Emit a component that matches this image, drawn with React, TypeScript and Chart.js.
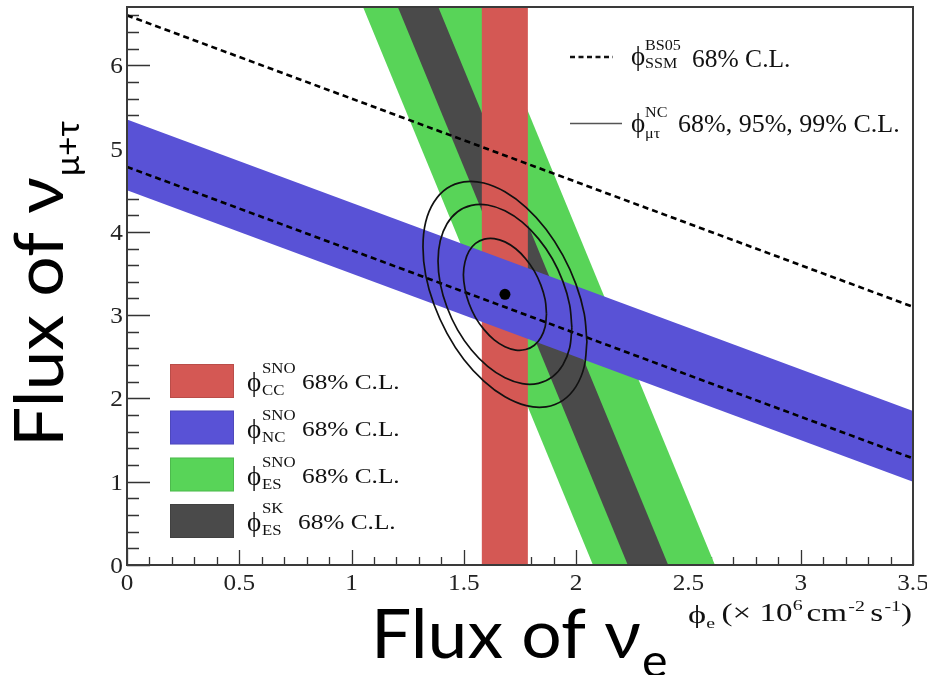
import React, { useEffect, useRef } from "react";
import { Chart, registerables } from "chart.js";

Chart.register(...registerables);

// Axis ranges, in units of 10^6 cm^-2 s^-1
const X_MIN = 0;
const X_MAX = 3.5;
const Y_MIN = 0;
const Y_MAX = 6.7;
const X_TICKS = [0, 0.5, 1, 1.5, 2, 2.5, 3, 3.5];
const X_TICK_LABELS = ["0", "0.5", "1", "1.5", "2", "2.5", "3", "3.5"];
const Y_TICKS = [0, 1, 2, 3, 4, 5, 6];
const Y_TICK_LABELS = ["0", "1", "2", "3", "4", "5", "6"];
const X_MINOR = 0.1;
const Y_MINOR = 0.2;

// SNO CC band: phi_e interval
const CC_BAND = [1.58, 1.785];
// SNO NC band: lower / upper edge of phi_mutau at phi_e = 0 and phi_e = 3.5
const NC_LOWER = [4.5, 1.0];
const NC_UPPER = [5.35, 1.85];
// ES bands: phi_e edges at phi_mutau = 0 and at the top of the frame
const ES_SNO_BOTTOM = [2.075, 2.618];
const ES_SNO_TOP = [1.051, 1.594];
const ES_SK_BOTTOM = [2.23, 2.41];
const ES_SK_TOP = [1.206, 1.386];
// BS05 SSM predictions (dashed): phi_mutau at phi_e = 0 and phi_e = 3.5
const SSM_NC = [4.78, 1.28];
const SSM_TOTAL = [6.6, 3.1];
// Best fit point
const BEST_FIT_X = 1.683;
const BEST_FIT_Y = 3.25;
// phi_mutau contours (68%, 95%, 99% C.L.)
const C68_X = [1.868, 1.862, 1.843, 1.814, 1.775, 1.731, 1.683, 1.635, 1.591, 1.552, 1.523, 1.505, 1.498, 1.505, 1.523, 1.552, 1.591, 1.635, 1.683, 1.731, 1.775, 1.814, 1.843, 1.862];
const C68_Y = [3.015, 2.86, 2.732, 2.639, 2.587, 2.581, 2.621, 2.703, 2.823, 2.971, 3.139, 3.314, 3.485, 3.64, 3.769, 3.862, 3.913, 3.919, 3.88, 3.797, 3.678, 3.529, 3.361, 3.186];
const C95_X = [1.981, 1.971, 1.941, 1.894, 1.832, 1.76, 1.683, 1.606, 1.534, 1.472, 1.425, 1.395, 1.385, 1.395, 1.425, 1.472, 1.534, 1.606, 1.683, 1.76, 1.832, 1.894, 1.941, 1.971];
const C95_Y = [2.851, 2.605, 2.403, 2.258, 2.181, 2.177, 2.247, 2.384, 2.581, 2.823, 3.094, 3.376, 3.649, 3.895, 4.097, 4.242, 4.319, 4.323, 4.253, 4.116, 3.919, 3.677, 3.406, 3.124];
const C99_X = [2.048, 2.036, 1.999, 1.941, 1.866, 1.778, 1.683, 1.589, 1.5, 1.425, 1.367, 1.33, 1.318, 1.33, 1.367, 1.425, 1.5, 1.589, 1.683, 1.778, 1.866, 1.941, 1.999, 2.036];
const C99_Y = [2.681, 2.382, 2.142, 1.977, 1.899, 1.913, 2.019, 2.208, 2.468, 2.782, 3.127, 3.481, 3.819, 4.118, 4.358, 4.523, 4.601, 4.587, 4.481, 4.292, 4.032, 3.718, 3.373, 3.019];

const RED = "rgb(212, 88, 84)";
const BLUE = "rgb(89, 82, 214)";
const GREEN = "rgb(88, 212, 88)";
const DARK = "rgb(74, 74, 74)";

const SERIF = '"Liberation Serif", "DejaVu Serif", serif';
const SANS = 'Lato, "Open Sans", sans-serif';
const PHI = "\u03d5";

const closed = (xs: number[], ys: number[]) => {
  const p = xs.map((x, i) => ({ x, y: ys[i] }));
  return [...p, p[0]];
};

// serif text with a horizontal stretch; returns the drawn width
function serifText(
  ctx: CanvasRenderingContext2D,
  s: string,
  x: number,
  y: number,
  size: number,
  sx = 1.1,
  align: "left" | "right" | "center" = "left",
  color = "#111",
  draw = true
) {
  ctx.save();
  ctx.font = `${size}px ${SERIF}`;
  const w = ctx.measureText(s).width * sx;
  if (draw) {
    let x0 = x;
    if (align === "right") x0 = x - w;
    if (align === "center") x0 = x - w / 2;
    ctx.translate(x0, y);
    ctx.scale(sx, 1);
    ctx.fillStyle = color;
    ctx.textAlign = "left";
    ctx.textBaseline = "alphabetic";
    ctx.fillText(s, 0, 0);
  }
  ctx.restore();
  return w;
}

type Piece = { s: string; size: number; dy: number; gap: number };
// a run of text pieces squeezed / stretched to a given total width
function runText(ctx: CanvasRenderingContext2D, pieces: Piece[], x: number, base: number, width: number) {
  let natural = 0;
  pieces.forEach((p) => (natural += serifText(ctx, p.s, 0, 0, p.size, 1, "left", "#111", false) + p.gap));
  const k = width / natural;
  let cx = x;
  pieces.forEach((p) => {
    cx += serifText(ctx, p.s, cx, base + p.dy, p.size, k) + p.gap * k;
  });
}

const decor = {
  id: "decor",
  beforeDatasetsDraw(chart: any) {
    const { ctx, chartArea: a, scales } = chart;
    const xs = scales.x;
    const ys = scales.y;
    ctx.save();
    ctx.strokeStyle = "#333";
    ctx.lineWidth = 1.3;
    ctx.beginPath();
    for (let i = 0; i <= Math.round((X_MAX - X_MIN) / X_MINOR); i++) {
      const v = X_MIN + i * X_MINOR;
      const px = Math.round(xs.getPixelForValue(v)) + 0.5;
      const major = i % 5 === 0;
      ctx.moveTo(px, a.bottom);
      ctx.lineTo(px, a.bottom - (major ? 15 : 8));
    }
    for (let i = 0; i <= Math.floor((Y_MAX - Y_MIN) / Y_MINOR + 1e-6); i++) {
      const v = Y_MIN + i * Y_MINOR;
      const py = Math.round(ys.getPixelForValue(v)) + 0.5;
      const major = i % 5 === 0;
      ctx.moveTo(a.left, py);
      ctx.lineTo(a.left + (major ? 23 : 12), py);
    }
    ctx.stroke();
    ctx.restore();
  },
  afterDraw(chart: any) {
    const { ctx, chartArea: a, scales } = chart;
    const xs = scales.x;
    const ys = scales.y;
    ctx.save();
    // frame
    ctx.strokeStyle = "#3a3a3a";
    ctx.lineWidth = 2;
    ctx.strokeRect(a.left, a.top, a.right - a.left, a.bottom - a.top);

    // tick labels
    X_TICKS.forEach((v, i) => {
      serifText(ctx, X_TICK_LABELS[i], xs.getPixelForValue(v), a.bottom + 25, 24, 1.05, "center", "#222");
    });
    Y_TICKS.forEach((v, i) => {
      serifText(ctx, Y_TICK_LABELS[i], a.left - 4, ys.getPixelForValue(v) + 8, 23, 1.1, "right", "#222");
    });

    // unit label under the x axis
    runText(
      ctx,
      [
        { s: PHI, size: 26, dy: 2, gap: 0 },
        { s: "e", size: 15, dy: 7, gap: 5 },
        { s: "(\u00d7 10", size: 25, dy: 0, gap: 0 },
        { s: "6", size: 15, dy: -11, gap: 3 },
        { s: "cm", size: 25, dy: 0, gap: 1 },
        { s: "-2", size: 15, dy: -10, gap: 4 },
        { s: "s", size: 25, dy: 0, gap: 1 },
        { s: "-1", size: 15, dy: -10, gap: 0 },
        { s: ")", size: 25, dy: 0, gap: 0 },
      ],
      688,
      621,
      224
    );

    // lower-left legend
    const rows = [
      { c: RED, sup: "SNO", sub: "CC", cy: 381, tx: 302 },
      { c: BLUE, sup: "SNO", sub: "NC", cy: 427.5, tx: 302 },
      { c: GREEN, sup: "SNO", sub: "ES", cy: 474.5, tx: 302 },
      { c: DARK, sup: "SK", sub: "ES", cy: 521, tx: 298 },
    ];
    rows.forEach((r) => {
      ctx.fillStyle = r.c;
      ctx.fillRect(170, r.cy - 17, 64, 34);
      ctx.strokeStyle = "rgba(0,0,0,0.12)";
      ctx.lineWidth = 1;
      ctx.strokeRect(170.5, r.cy - 16.5, 63, 33);
      const b = r.cy + 8;
      serifText(ctx, PHI, 247, b + 2, 27, 1);
      serifText(ctx, r.sup, 262, b - 16, 15, 1.12);
      serifText(ctx, r.sub, 262, b + 6, 15, 1.12);
      serifText(ctx, "68% C.L.", r.tx, b, 22, 1.15);
    });

    // upper-right legend
    ctx.strokeStyle = "#111";
    ctx.lineWidth = 2.5;
    ctx.setLineDash([5, 3.5]);
    ctx.beginPath();
    ctx.moveTo(570, 57);
    ctx.lineTo(613, 57);
    ctx.stroke();
    ctx.setLineDash([]);
    ctx.strokeStyle = "#555";
    ctx.lineWidth = 1.5;
    ctx.beginPath();
    ctx.moveTo(570, 123.5);
    ctx.lineTo(622, 123.5);
    ctx.stroke();

    serifText(ctx, PHI, 631, 65, 27, 1);
    serifText(ctx, "BS05", 645, 50, 14, 1.15);
    serifText(ctx, "SSM", 645, 68, 14, 1.15);
    serifText(ctx, "68% C.L.", 692, 67, 25, 1.02);

    serifText(ctx, PHI, 631, 132, 27, 1);
    serifText(ctx, "NC", 645, 117, 14, 1.15);
    serifText(ctx, "\u03bc\u03c4", 645, 138, 14, 1.15);
    serifText(ctx, "68%, 95%, 99% C.L.", 678, 132, 25, 1.04);

    // axis titles
    ctx.fillStyle = "#000";
    ctx.textBaseline = "alphabetic";
    ctx.textAlign = "left";
    const TX = 1.05;
    ctx.save();
    ctx.translate(371, 658);
    ctx.scale(TX, 1);
    ctx.font = `68px ${SANS}`;
    const xt = "Flux of \u03bd";
    ctx.fillText(xt, 0, 0);
    const xw = ctx.measureText(xt).width;
    ctx.font = `46px ${SANS}`;
    ctx.fillText("e", xw + 1, 19);
    ctx.restore();

    ctx.save();
    ctx.translate(63, 447);
    ctx.rotate(-Math.PI / 2);
    ctx.scale(TX, 1);
    ctx.font = `68px ${SANS}`;
    const yt = "Flux of \u03bd";
    ctx.fillText(yt, 0, 0);
    const yw = ctx.measureText(yt).width;
    ctx.font = `32px ${SANS}`;
    ctx.fillText("\u03bc+\u03c4", yw + 1, 16);
    ctx.restore();

    ctx.restore();
  },
};

export default function App() {
  const ref = useRef<HTMLCanvasElement | null>(null);

  useEffect(() => {
    document.body.style.margin = "0";
    const canvas = ref.current;
    if (!canvas) return;

    const band = (data: { x: number; y: number }[], color: string, order: number) => ({
      data,
      showLine: true,
      fill: "shape",
      backgroundColor: color,
      borderColor: color,
      borderWidth: 0,
      pointRadius: 0,
      tension: 0,
      order,
    });
    const contour = (xs: number[], ys: number[]) => ({
      data: closed(xs, ys),
      showLine: true,
      fill: false,
      borderColor: "#111",
      borderWidth: 1.7,
      pointRadius: 0,
      tension: 0.35,
      order: 1,
    });
    const dashed = (ys: number[]) => ({
      data: [
        { x: X_MIN, y: ys[0] },
        { x: X_MAX, y: ys[1] },
      ],
      showLine: true,
      fill: false,
      borderColor: "#000",
      borderWidth: 2.6,
      borderDash: [6, 4],
      pointRadius: 0,
      order: 2,
    });

    const chart = new Chart(canvas, {
      type: "scatter",
      data: {
        datasets: [
          band(
            [
              { x: ES_SNO_BOTTOM[0], y: Y_MIN },
              { x: ES_SNO_BOTTOM[1], y: Y_MIN },
              { x: ES_SNO_TOP[1], y: Y_MAX },
              { x: ES_SNO_TOP[0], y: Y_MAX },
            ],
            GREEN,
            7
          ),
          band(
            [
              { x: ES_SK_BOTTOM[0], y: Y_MIN },
              { x: ES_SK_BOTTOM[1], y: Y_MIN },
              { x: ES_SK_TOP[1], y: Y_MAX },
              { x: ES_SK_TOP[0], y: Y_MAX },
            ],
            DARK,
            6
          ),
          band(
            [
              { x: CC_BAND[0], y: Y_MIN },
              { x: CC_BAND[1], y: Y_MIN },
              { x: CC_BAND[1], y: Y_MAX },
              { x: CC_BAND[0], y: Y_MAX },
            ],
            RED,
            5
          ),
          band(
            [
              { x: X_MIN, y: NC_LOWER[0] },
              { x: X_MAX, y: NC_LOWER[1] },
              { x: X_MAX, y: NC_UPPER[1] },
              { x: X_MIN, y: NC_UPPER[0] },
            ],
            BLUE,
            4
          ),
          dashed(SSM_NC),
          dashed(SSM_TOTAL),
          contour(C99_X, C99_Y),
          contour(C95_X, C95_Y),
          contour(C68_X, C68_Y),
          {
            data: [{ x: BEST_FIT_X, y: BEST_FIT_Y }],
            pointRadius: 5.5,
            backgroundColor: "#000",
            borderColor: "#000",
            borderWidth: 0,
            order: 0,
          },
        ] as any,
      },
      options: {
        animation: false,
        responsive: false,
        events: [],
        layout: { padding: { left: 127, right: 14, top: 7, bottom: 110 } },
        plugins: { legend: { display: false }, tooltip: { enabled: false } },
        scales: {
          x: { type: "linear", min: X_MIN, max: X_MAX, display: false },
          y: { type: "linear", min: Y_MIN, max: Y_MAX, display: false },
        },
      },
      plugins: [decor],
    });
    return () => chart.destroy();
  }, []);

  return (
    <div style={{ width: 927, height: 675, background: "#fff" }}>
      <canvas ref={ref} width={927} height={675} />
    </div>
  );
}
